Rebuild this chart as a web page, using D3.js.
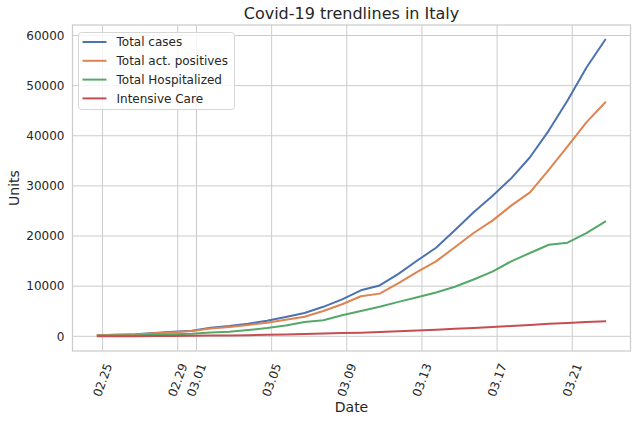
<!DOCTYPE html>
<html>
<head>
<meta charset="utf-8">
<script src="https://cdn.jsdelivr.net/npm/d3@7"></script>
<style>
  body { margin: 0; background: #fff; }
  svg { display: block; font-family: "DejaVu Sans", sans-serif; }
</style>
</head>
<body>
<div id="chart"></div>
<script>
(function () {
  'use strict';

  // Daily reports (taken at 18:00), 2020-02-24 .. 2020-03-22
  const dates = [
    '02-24', '02-25', '02-26', '02-27', '02-28', '02-29', '03-01', '03-02', '03-03', '03-04',
    '03-05', '03-06', '03-07', '03-08', '03-09', '03-10', '03-11', '03-12', '03-13', '03-14',
    '03-15', '03-16', '03-17', '03-18', '03-19', '03-20', '03-21', '03-22'
  ];
  const totalCases = [
    229, 322, 400, 650, 888, 1128, 1694, 2036, 2502, 3089,
    3858, 4636, 5883, 7375, 9172, 10149, 12462, 15113, 17660, 21157,
    24747, 27980, 31506, 35713, 41035, 47021, 53578, 59138
  ];
  const actPositives = [
    221, 311, 385, 588, 821, 1049, 1577, 1835, 2263, 2706,
    3296, 3916, 5061, 6387, 7985, 8514, 10590, 12839, 14955, 17750,
    20603, 23073, 26062, 28710, 33190, 37860, 42681, 46638
  ];
  const hospitalized = [
    127, 150, 164, 304, 409, 506, 779, 908, 1263, 1641,
    2141, 2856, 3218, 4207, 5049, 5915, 6866, 7803, 8754, 9890,
    11335, 12894, 14954, 16620, 18255, 18675, 20565, 22855
  ];
  const intensiveCare = [
    26, 35, 36, 56, 64, 105, 140, 166, 229, 295,
    351, 462, 567, 650, 733, 877, 1028, 1153, 1328, 1518,
    1672, 1851, 2060, 2257, 2498, 2655, 2857, 3009
  ];
  const seriesNames = ['Total cases', 'Total act. positives', 'Total Hospitalized', 'Intensive Care'];
  const seriesColors = ['#4c72b0', '#dd8452', '#55a868', '#c44e52'];
  const xTickDates = ['02-25', '02-29', '03-01', '03-05', '03-09', '03-13', '03-17', '03-21'];
  const yTicks = [0, 10000, 20000, 30000, 40000, 50000, 60000];

  const W = 637, H = 422;
  const m = { left: 72.5, right: 630.5, top: 25, bottom: 351 };
  const parse = s => new Date(2020, +s.slice(0, 2) - 1, +s.slice(3));
  const DAY = 864e5;
  const times = dates.map(d => new Date(parse(d).getTime() + 18 * 3600e3));

  const series = [totalCases, actPositives, hospitalized, intensiveCare];

  // matplotlib-style 5% margins
  const t0 = times[0].getTime(), t1 = times[times.length - 1].getTime();
  const xPad = (t1 - t0) * 0.05;
  const yMin = d3.min(series.flat()), yMax = d3.max(series.flat());
  const yPad = (yMax - yMin) * 0.05;

  const x = d3.scaleTime().domain([new Date(t0 - xPad), new Date(t1 + xPad)]).range([m.left, m.right]);
  const y = d3.scaleLinear().domain([yMin - yPad, yMax + yPad]).range([m.bottom, m.top]);

  const svg = d3.select('#chart').append('svg').attr('width', W).attr('height', H);
  const grid = '#cccccc', txt = '#262626';

  // grid
  svg.append('g').selectAll('line.gx').data(xTickDates).join('line')
    .attr('x1', d => x(parse(d))).attr('x2', d => x(parse(d)))
    .attr('y1', m.top).attr('y2', m.bottom)
    .attr('stroke', grid).attr('stroke-width', 1);
  svg.append('g').selectAll('line.gy').data(yTicks).join('line')
    .attr('x1', m.left).attr('x2', m.right)
    .attr('y1', d => y(d)).attr('y2', d => y(d))
    .attr('stroke', grid).attr('stroke-width', 1);

  // spines
  svg.append('rect')
    .attr('x', m.left).attr('y', m.top)
    .attr('width', m.right - m.left).attr('height', m.bottom - m.top)
    .attr('fill', 'none').attr('stroke', grid).attr('stroke-width', 1.25);

  // lines
  const line = d3.line().x((d, i) => x(times[i])).y(d => y(d));
  series.forEach((s, k) => {
    svg.append('path').datum(s)
      .attr('d', line)
      .attr('fill', 'none')
      .attr('stroke', seriesColors[k])
      .attr('stroke-width', 2)
      .attr('stroke-linejoin', 'round')
      .attr('stroke-linecap', 'square');
  });

  // y tick labels
  svg.append('g').selectAll('text').data(yTicks).join('text')
    .attr('x', m.left - 8).attr('y', d => y(d))
    .attr('dy', '0.35em')
    .attr('text-anchor', 'end')
    .attr('font-size', 12).attr('fill', txt)
    .text(d => d);

  // x tick labels, rotated 70deg, bbox centred on tick
  svg.append('g').selectAll('text').data(xTickDates).join('text')
    .attr('transform', d => `translate(${x(parse(d))},${m.bottom + 29}) rotate(-70)`)
    .attr('text-anchor', 'middle')
    .attr('dy', '0.35em')
    .attr('font-size', 12).attr('fill', txt)
    .text(d => d.replace('-', '.'));

  // axis labels and title
  svg.append('text').attr('x', (m.left + m.right) / 2).attr('y', 412)
    .attr('text-anchor', 'middle').attr('font-size', 14).attr('fill', txt).text('Date');
  svg.append('text').attr('transform', `translate(19,${(m.top + m.bottom) / 2}) rotate(-90)`)
    .attr('text-anchor', 'middle').attr('font-size', 14).attr('fill', txt).text('Units');
  svg.append('text').attr('x', (m.left + m.right) / 2).attr('y', 19)
    .attr('text-anchor', 'middle').attr('font-size', 16).attr('fill', txt)
    .text('Covid-19 trendlines in Italy');

  // legend
  const lg = svg.append('g').attr('transform', 'translate(78.5,32.5)');
  lg.append('rect').attr('width', 156).attr('height', 77).attr('rx', 3)
    .attr('fill', '#fff').attr('fill-opacity', 0.8).attr('stroke', '#d6d6d6');
  seriesNames.forEach((name, k) => {
    const cy = 9.5 + k * 18.8;
    lg.append('line').attr('x1', 4).attr('x2', 28).attr('y1', cy).attr('y2', cy)
      .attr('stroke', seriesColors[k]).attr('stroke-width', 2);
    lg.append('text').attr('x', 38).attr('y', cy).attr('dy', '0.35em')
      .attr('font-size', 12).attr('fill', txt).text(name);
  });
})();
</script>
</body>
</html>
